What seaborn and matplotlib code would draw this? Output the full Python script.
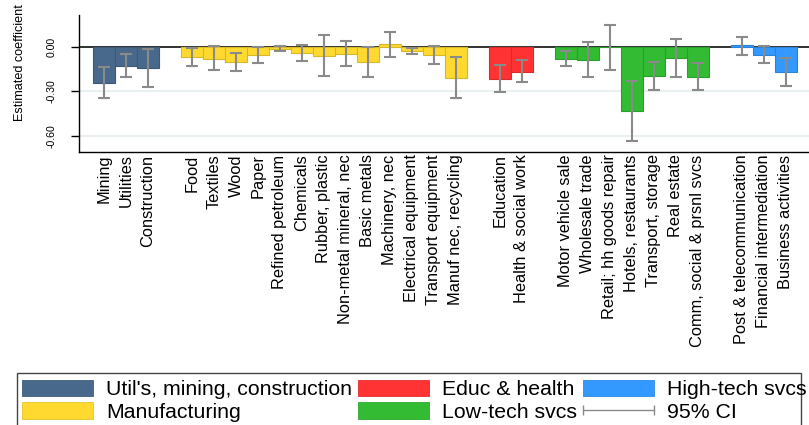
import numpy as np
import pandas as pd
import matplotlib
matplotlib.use("Agg")
import matplotlib.pyplot as plt
import matplotlib.colors as mcolors
import seaborn as sns
from matplotlib.patches import Patch, Rectangle
from matplotlib.lines import Line2D
from matplotlib.legend_handler import HandlerLine2D

# ---------------- data ----------------
groups = ["Util's, mining, construction", "Manufacturing", "Educ & health",
          "Low-tech svcs", "High-tech svcs"]
group_colors = ["#48698b", "#ffd92f", "#ff3333", "#33bb33", "#3399ff"]

util_sectors = ["Mining", "Utilities", "Construction"]
util_coef = [-0.242, -0.129, -0.144]
util_lo = [-0.347, -0.205, -0.268]
util_hi = [-0.133, -0.050, -0.011]

manuf_sectors = ["Food", "Textiles", "Wood", "Paper", "Refined petroleum", "Chemicals",
                 "Rubber, plastic", "Non-metal mineral, nec", "Basic metals",
                 "Machinery, nec", "Electrical equipment", "Transport equipment",
                 "Manuf nec, recycling"]
manuf_coef = [-0.066, -0.080, -0.104, -0.057, -0.012, -0.043, -0.059, -0.048, -0.103,
              0.018, -0.025, -0.057, -0.207]
manuf_lo = [-0.126, -0.158, -0.163, -0.110, -0.027, -0.092, -0.196, -0.129, -0.203,
            -0.069, -0.048, -0.115, -0.342]
manuf_hi = [-0.005, 0.009, -0.043, 0.000, 0.005, 0.011, 0.079, 0.039, -0.002,
            0.101, -0.005, 0.009, -0.065]

educ_sectors = ["Education", "Health & social work"]
educ_coef = [-0.216, -0.166]
educ_lo = [-0.307, -0.239]
educ_hi = [-0.119, -0.088]

low_sectors = ["Motor vehicle sale", "Wholesale trade", "Retail; hh goods repair",
               "Hotels, restaurants", "Transport, storage", "Real estate",
               "Comm, social & prsnl svcs"]
low_coef = [-0.081, -0.088, -0.002, -0.435, -0.198, -0.074, -0.205]
low_lo = [-0.129, -0.205, -0.156, -0.638, -0.291, -0.200, -0.293]
low_hi = [-0.027, 0.032, 0.149, -0.230, -0.101, 0.054, -0.108]

high_sectors = ["Post & telecommunication", "Financial intermediation", "Business activities"]
high_coef = [0.011, -0.054, -0.169]
high_lo = [-0.054, -0.108, -0.264]
high_hi = [0.069, 0.009, -0.072]

all_sectors = [util_sectors, manuf_sectors, educ_sectors, low_sectors, high_sectors]
all_coef = [util_coef, manuf_coef, educ_coef, low_coef, high_coef]
all_lo = [util_lo, manuf_lo, educ_lo, low_lo, high_lo]
all_hi = [util_hi, manuf_hi, educ_hi, low_hi, high_hi]

rows = []
order = []
for gi, g in enumerate(groups):
    for s, c, lo, hi in zip(all_sectors[gi], all_coef[gi], all_lo[gi], all_hi[gi]):
        rows.append(dict(sector=s, coef=c, lo=lo, hi=hi, group=g))
    order.extend(all_sectors[gi])
    if gi < len(groups) - 1:
        order.append(" " * (gi + 1))  # empty slot between groups
df = pd.DataFrame(rows)

# ---------------- figure ----------------
sns.set_style("white")
plt.rcParams["font.family"] = ["Liberation Sans", "DejaVu Sans"]
plt.rcParams["text.color"] = "black"
plt.rcParams["axes.labelcolor"] = "black"
plt.rcParams["xtick.color"] = "black"
plt.rcParams["ytick.color"] = "black"

W, H = 809, 425
fig = plt.figure(figsize=(W / 100, H / 100), dpi=100)
ax_l, ax_r, ax_t, ax_b = 79.3, 809.0, 15.0, 151.7
ax = fig.add_axes([ax_l / W, 1 - ax_b / H, (ax_r - ax_l) / W, (ax_b - ax_t) / H])

palette = dict(zip(groups, group_colors))
sns.barplot(data=df, x="sector", y="coef", hue="group", order=order, hue_order=groups,
            palette=palette, dodge=False, width=1.0, errorbar=None, legend=False,
            saturation=1, linewidth=0.8, ax=ax)

def darker(c, f=0.85):
    r, g, b, a = mcolors.to_rgba(c)
    return (r * f, g * f, b * f, 1)

for p in ax.patches:
    p.set_edgecolor(darker(p.get_facecolor()))
    p.set_zorder(1)

xpos = np.array([order.index(s) for s in df["sector"]])
coef = df["coef"].to_numpy()
yerr = np.vstack([coef - df["lo"].to_numpy(), df["hi"].to_numpy() - coef])
ax.errorbar(xpos, coef, yerr=yerr, fmt="none", ecolor="#8a8a8a", elinewidth=1.5,
            capsize=4, capthick=1.5, zorder=3)

ax.axhline(0, color="black", lw=1.1, zorder=0.9)
ax.set_axisbelow(True)
ax.yaxis.grid(True, color="#e8f0f2", lw=1.5)
ax.xaxis.grid(False)

ax.set_xlim(-1.12, 32.05)
ax.set_ylim(-0.708, 0.2165)

yt = [0.0, -0.3, -0.6]
ax.set_yticks(yt)
ax.set_yticklabels([f"{v:.2f}" if v != 0 else "0.00" for v in yt])
ax.tick_params(axis="y", left=True, length=5.8, width=1, color="black",
               labelcolor="black", labelsize=7.6, labelrotation=90, pad=10.5)
for t in ax.get_yticklabels():
    t.set_va("center")

ax.set_xticks(range(len(order)))
ax.set_xticklabels(order)
ax.tick_params(axis="x", length=0, pad=2, labelsize=11.8, labelrotation=90,
               labelcolor="black")
ax.set_xlabel("")

ax.set_ylabel("Estimated coefficient", fontsize=9.1, color="black")
ax.yaxis.label.set_va("center")
ax.yaxis.set_label_coords((20 - ax_l) / (ax_r - ax_l), (ax_b - 63) / (ax_b - ax_t))

for side in ["top", "right"]:
    ax.spines[side].set_visible(False)
for side in ["left", "bottom"]:
    ax.spines[side].set_color("black")
    ax.spines[side].set_linewidth(1.0)

# ---------------- legend ----------------
patch_handles = [Patch(facecolor=c, edgecolor=darker(c, 0.9), lw=0.6) for c in group_colors]
ci_line = Line2D([], [], color="#8a8a8a", lw=1.0, marker="|", markersize=7,
                 markeredgewidth=1.0)
handles = [patch_handles[0], patch_handles[1], patch_handles[2], patch_handles[3],
           patch_handles[4], ci_line]
labels = [groups[0], groups[1], groups[2], groups[3], groups[4], "95% CI"]
leg = fig.legend(handles, labels, loc="upper left",
                 bbox_to_anchor=(22.3 / W, 1 - 379.5 / H), bbox_transform=fig.transFigure,
                 ncol=3, frameon=False, fontsize=15.3, borderpad=0, borderaxespad=0,
                 handlelength=3.35, handleheight=0.8, handletextpad=0.58,
                 columnspacing=0.3, labelspacing=0.16,
                 handler_map={ci_line: HandlerLine2D(marker_pad=0, numpoints=2)})
for t in leg.get_texts():
    t.set_color("black")

frame = Rectangle((16.7 / W, 1 - 427 / H), (800.7 - 16.7) / W, (427 - 373.3) / H,
                  transform=fig.transFigure, fill=False, edgecolor="#444444", lw=1.0)
fig.add_artist(frame)

fig.savefig("out.png", dpi=100, facecolor="white")
